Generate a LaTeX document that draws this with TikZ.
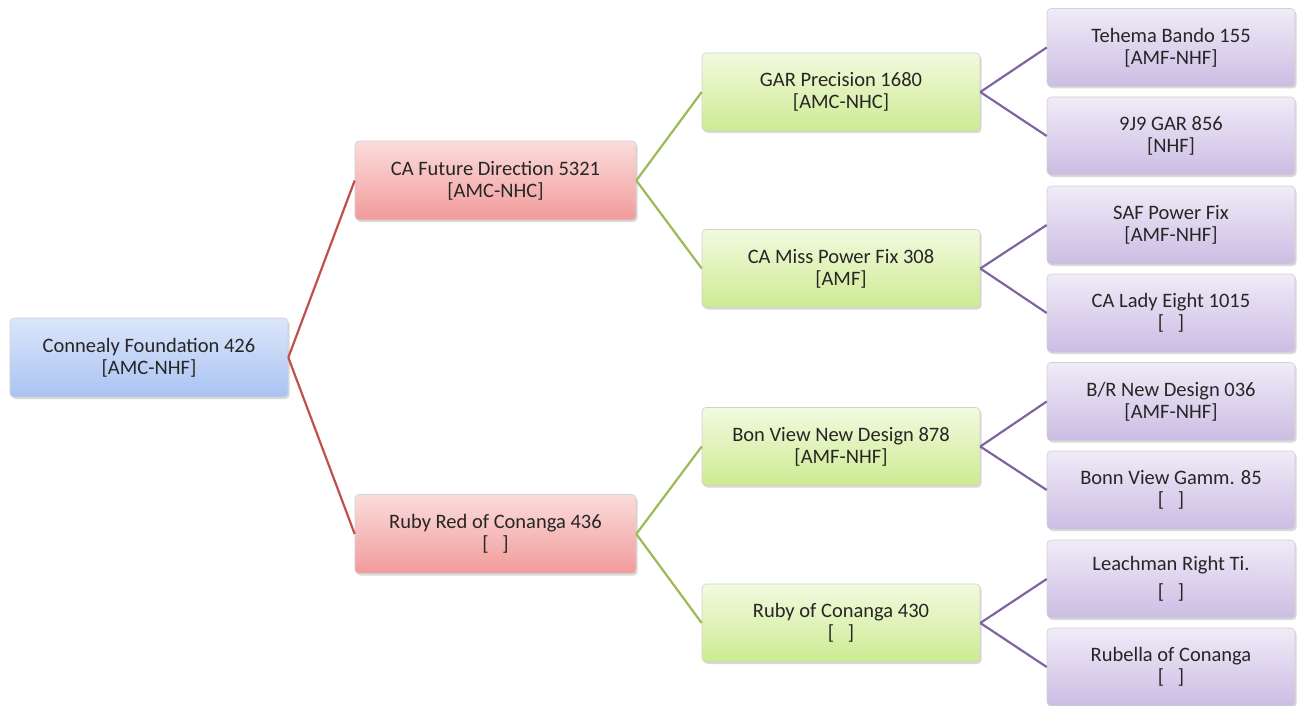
\documentclass[tikz,border=0pt]{standalone}
\usepackage{fontspec}
\setmainfont{Carlito}
\usetikzlibrary{shadows}

\definecolor{rootTop}{HTML}{DCE6FA}
\definecolor{rootBot}{HTML}{A9C3F2}
\definecolor{sireTop}{HTML}{FBDCDC}
\definecolor{sireBot}{HTML}{F29A9A}
\definecolor{gsTop}{HTML}{F2FADF}
\definecolor{gsBot}{HTML}{CDEB92}
\definecolor{ggTop}{HTML}{F0EBF8}
\definecolor{ggBot}{HTML}{CBBDE3}
\definecolor{redLine}{HTML}{C0504D}
\definecolor{greenLine}{HTML}{9BBB59}
\definecolor{purpleLine}{HTML}{8064A2}

\tikzset{
  pbox/.style={rectangle, rounded corners=4pt, draw=black!18, line width=0.6pt,
    align=center, text=black!85, font=\fontsize{20.5}{22}\selectfont,
    drop shadow={shadow xshift=1.5pt, shadow yshift=-2pt, opacity=0.3}},
  rootbox/.style={pbox, minimum width=278pt, minimum height=79pt, top color=rootTop, bottom color=rootBot},
  sirebox/.style={pbox, minimum width=281pt, minimum height=79pt, top color=sireTop, bottom color=sireBot},
  gsbox/.style={pbox, minimum width=278pt, minimum height=78pt, top color=gsTop, bottom color=gsBot},
  ggbox/.style={pbox, minimum width=248pt, minimum height=78pt, top color=ggTop, bottom color=ggBot},
  link/.style={line width=2.2pt}
}

\begin{document}
\begin{tikzpicture}[x=1pt, y=-1pt]
  \useasboundingbox (0,0) rectangle (1298,706);

  %%%%% BOXES %%%%%
  \node[rootbox] (root) at (149, 357.5) {Connealy Foundation 426\\ {[AMC-NHF]}};

  \node[sirebox] (sire) at (495.5, 180.5) {CA Future Direction 5321\\ {[AMC-NHC]}};
  \node[sirebox] (dam) at (495.5, 534) {Ruby Red of Conanga 436\\ {[\ \ \ ]}};

  \node[gsbox] (ss) at (841, 92) {GAR Precision 1680\\ {[AMC-NHC]}};
  \node[gsbox] (sd) at (841, 268.5) {CA Miss Power Fix 308\\ {[AMF]}};
  \node[gsbox] (ds) at (841, 446.5) {Bon View New Design 878\\ {[AMF-NHF]}};
  \node[gsbox] (dd) at (841, 623) {Ruby of Conanga 430\\ {[\ \ \ ]}};

  \node[ggbox] (sss) at (1171, 47.5) {Tehema Bando 155\\ {[AMF-NHF]}};
  \node[ggbox] (ssd) at (1171, 136) {9J9 GAR 856\\ {[NHF]}};
  \node[ggbox] (sds) at (1171, 225) {SAF Power Fix\\ {[AMF-NHF]}};
  \node[ggbox] (sdd) at (1171, 313) {CA Lady Eight 1015\\ {[\ \ \ ]}};
  \node[ggbox] (dss) at (1171, 401.5) {B/R New Design 036\\ {[AMF-NHF]}};
  \node[ggbox] (dsd) at (1171, 490) {Bonn View Gamm. 85\\ {[\ \ \ ]}};
  \node[ggbox] (dds) at (1171, 579) {Leachman Right Ti.\\[6pt] {[\ \ \ ]}};
  \node[ggbox] (ddd) at (1171, 667) {Rubella of Conanga\\ {[\ \ \ ]}};

  %%%%% LINKS %%%%%
  \foreach \p/\c in {root/sire, root/dam}
    \draw[link, redLine] (\p.east) -- (\c.west);
  \foreach \p/\c in {sire/ss, sire/sd, dam/ds, dam/dd}
    \draw[link, greenLine] (\p.east) -- (\c.west);
  \foreach \p/\c in {ss/sss, ss/ssd, sd/sds, sd/sdd, ds/dss, ds/dsd, dd/dds, dd/ddd}
    \draw[link, purpleLine] (\p.east) -- (\c.west);
\end{tikzpicture}
\end{document}
